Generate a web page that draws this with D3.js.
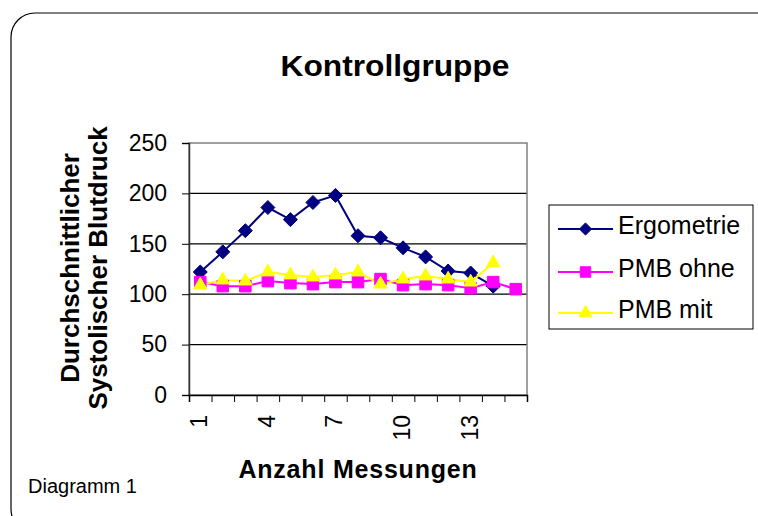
<!DOCTYPE html>
<html lang="de">
<head>
<meta charset="UTF-8">
<title>Kontrollgruppe</title>
<script src="https://d3js.org/d3.v7.min.js"></script>
<style>
  body { margin: 0; background: #fff; }
  svg { display: block; font-family: "Liberation Sans", Arial, sans-serif; }
</style>
</head>
<body>
<script>
// data
const messungen = d3.range(1, 16);           // 1..15
const ergometrie = [122, 142, 163, 186, 174, 191, 198, 158, 156, 146, 137, 123, 121, 108];
const pmbOhne    = [112, 108, 108, 113, 111, 110, 112, 112, 115, 109, 110, 109, 106, 112, 105];
const pmbMit     = [109, 114, 113, 122, 119, 117, 119, 122, 110, 115, 118, 115, 112, 131];
const yTicks = [0, 50, 100, 150, 200, 250];
const xLabels = [1, 4, 7, 10, 13];

const series = [
  {name: "Ergometrie", values: ergometrie, color: "#000080", symbol: d3.symbolDiamond2, size: 125, lsize: 95},
  {name: "PMB ohne",   values: pmbOhne,    color: "#ff00ff", symbol: d3.symbolSquare2,  size: 170, lsize: 140},
  {name: "PMB mit",    values: pmbMit,     color: "#ffff00", symbol: d3.symbolTriangle2, size: 130, lsize: 120}
];

const w = 758, h = 516;
const plot = {left: 189, right: 527, top: 143, bottom: 395};

const svg = d3.select("body").append("svg").attr("width", w).attr("height", h);

// outer frame with rounded corners
svg.append("rect")
  .attr("x", 11).attr("y", 13).attr("width", 770).attr("height", 520)
  .attr("rx", 24).attr("fill", "none").attr("stroke", "#000").attr("stroke-width", 1.2);

// scales
const x = d3.scaleBand().domain(messungen).range([plot.left, plot.right]);
const xEdge = d3.scaleLinear().domain([0, messungen.length]).range([plot.left, plot.right]);
const y = d3.scaleLinear().domain([0, 250]).range([plot.bottom, plot.top]);

// gridlines
svg.append("g").selectAll("line")
  .data(yTicks.filter(d => d > 0 && d < 250))
  .enter().append("line")
  .attr("x1", plot.left).attr("x2", plot.right)
  .attr("y1", d => y(d)).attr("y2", d => y(d))
  .attr("stroke", "#000").attr("stroke-width", 1.2);

// plot border
svg.append("rect")
  .attr("x", plot.left).attr("y", plot.top)
  .attr("width", plot.right - plot.left).attr("height", plot.bottom - plot.top)
  .attr("fill", "none").attr("stroke", "#808080").attr("stroke-width", 1.5);

// y axis
const yAxis = svg.append("g")
  .attr("transform", "translate(" + plot.left + ",0)")
  .call(d3.axisLeft(y).tickValues(yTicks).tickSize(7).tickPadding(15));
yAxis.select(".domain").attr("stroke", "#333").attr("stroke-width", 1.5);
yAxis.selectAll("text").attr("font-size", 23).attr("fill", "#000")
  .attr("font-family", "Liberation Sans, Arial, sans-serif");

// x axis: tick marks at category edges
const xAxis = svg.append("g")
  .attr("transform", "translate(0," + plot.bottom + ")")
  .call(d3.axisBottom(xEdge).tickValues(d3.range(messungen.length + 1)).tickSize(7).tickFormat(""));
xAxis.select(".domain").attr("stroke", "#000").attr("stroke-width", 1.5);

// x tick labels (rotated)
svg.append("g").selectAll("text")
  .data(xLabels)
  .enter().append("text")
  .attr("transform", d => "translate(" + (x(d) + x.bandwidth() / 2 + 7) + "," + (plot.bottom + 20) + ") rotate(-90)")
  .attr("text-anchor", "end")
  .attr("font-size", 23)
  .text(d => d);

// lines and markers
const line = d3.line()
  .x((d, i) => x(messungen[i]) + x.bandwidth() / 2)
  .y(d => y(d));

series.forEach(s => {
  svg.append("path")
    .datum(s.values)
    .attr("d", line)
    .attr("fill", "none")
    .attr("stroke", s.color)
    .attr("stroke-width", 2);
});

series.forEach(s => {
  svg.append("g").selectAll("path")
    .data(s.values)
    .enter().append("path")
    .attr("d", d3.symbol().type(s.symbol).size(s.size))
    .attr("transform", (d, i) => "translate(" + (x(messungen[i]) + x.bandwidth() / 2) + "," + y(d) + ")")
    .attr("fill", s.color)
    .attr("stroke", s.color)
    .attr("stroke-width", 1);
});

// title
svg.append("text")
  .attr("x", 395).attr("y", 76)
  .attr("text-anchor", "middle")
  .attr("font-size", 29).attr("font-weight", "bold")
  .attr("textLength", 229).attr("lengthAdjust", "spacingAndGlyphs")
  .text("Kontrollgruppe");

// y axis title
const yt = svg.append("text")
  .attr("transform", "translate(0,268) rotate(-90)")
  .attr("text-anchor", "middle")
  .attr("font-size", 26).attr("font-weight", "bold");
yt.append("tspan").attr("x", 0).attr("y", 79).text("Durchschnittlicher");
yt.append("tspan").attr("x", 0).attr("y", 107).text("Systolischer Blutdruck");

// x axis title
svg.append("text")
  .attr("x", 358).attr("y", 478)
  .attr("text-anchor", "middle")
  .attr("font-size", 25).attr("font-weight", "bold")
  .attr("letter-spacing", 0.8)
  .text("Anzahl Messungen");

// footnote
svg.append("text")
  .attr("x", 28).attr("y", 493)
  .attr("font-size", 20)
  .text("Diagramm 1");

// legend
const legend = svg.append("g");
legend.append("rect")
  .attr("x", 549).attr("y", 205).attr("width", 204).attr("height", 124)
  .attr("fill", "#fff").attr("stroke", "#000").attr("stroke-width", 1);

const legendY = [229, 272, 313];
series.forEach((s, i) => {
  const g = legend.append("g").attr("transform", "translate(0," + legendY[i] + ")");
  g.append("line").attr("x1", 558).attr("x2", 613).attr("y1", 0).attr("y2", 0)
    .attr("stroke", s.color).attr("stroke-width", 2);
  g.append("path")
    .attr("d", d3.symbol().type(s.symbol).size(s.lsize))
    .attr("transform", "translate(585.5,0)")
    .attr("fill", s.color).attr("stroke", s.color);
  g.append("text").attr("x", 618).attr("y", 5)
    .attr("font-size", 25)
    .text(s.name);
});
</script>
</body>
</html>
